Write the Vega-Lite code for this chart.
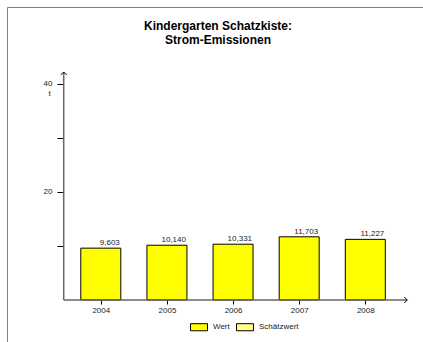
{
  "$schema": "https://vega.github.io/schema/vega-lite/v6.json",
  "width": 416,
  "height": 335,
  "autosize": {"type": "none"},
  "padding": {"left": 7, "top": 7, "right": 0, "bottom": 0},
  "background": "white",
  "config": {
    "font": "Liberation Sans",
    "locale": {"number": {"decimal": ",", "thousands": ".", "grouping": [3], "currency": ["", " €"]}},
    "view": {"stroke": "#808080", "strokeWidth": 1, "strokeDash": [416, 751, 335]}
  },
  "title": {
    "text": ["Kindergarten Schatzkiste:", "Strom-Emissionen"],
    "fontSize": 12,
    "fontWeight": "bold",
    "font": "Liberation Sans",
    "anchor": "middle",
    "frame": "group",
    "baseline": "top",
    "offset": -40,
    "lineHeight": 14,
    "dx": 3,
    "color": "black"
  },
  "data": {
    "values": [
      {"Jahr": 2004, "Wert": 9.603, "Art": "Wert"},
      {"Jahr": 2005, "Wert": 10.140, "Art": "Wert"},
      {"Jahr": 2006, "Wert": 10.331, "Art": "Wert"},
      {"Jahr": 2007, "Wert": 11.703, "Art": "Wert"},
      {"Jahr": 2008, "Wert": 11.227, "Art": "Wert"}
    ]
  },
  "layer": [
    {
      "mark": {"type": "bar", "width": 40, "stroke": "black", "strokeWidth": 1},
      "encoding": {
        "x": {
          "field": "Jahr", "type": "quantitative",
          "scale": {"domain": [2002.657, 2008.797], "nice": false, "zero": false},
          "axis": {
            "orient": "bottom", "offset": -42, "values": [2004, 2005, 2006, 2007, 2008],
            "format": "d", "domain": false, "grid": false, "tickSize": 4, "tickColor": "black",
            "labelFontSize": 8, "labelPadding": 2, "labelColor": "#222", "title": null
          }
        },
        "y": {
          "field": "Wert", "type": "quantitative",
          "scale": {"domain": [-7.778, 54.259], "nice": false, "zero": false},
          "axis": {
            "orient": "left", "offset": -56, "values": [10, 20, 30, 40],
            "labelExpr": "datum.value == 20 || datum.value == 40 ? datum.label : ''",
            "domain": false, "grid": false, "tickSize": 6, "tickColor": "black",
            "labelFontSize": 8, "labelPadding": 5, "labelColor": "#222",
            "title": "t", "titleAngle": 0, "titleX": -14, "titleY": 86,
            "titleAlign": "center", "titleBaseline": "middle", "titleFontSize": 8,
            "titleFontWeight": "normal", "titleColor": "#222"
          }
        },
        "y2": {"datum": 0},
        "color": {
          "field": "Art", "type": "nominal",
          "scale": {"domain": ["Wert", "Schätzwert"], "range": ["#ffff00", "#ffff88"]},
          "legend": {
            "orient": "none", "legendX": 184, "legendY": 312, "direction": "horizontal",
            "title": null, "symbolType": "M-1.2,-0.5H1.2V0.5H-1.2Z", "symbolSize": 200,
            "symbolStrokeColor": "black", "symbolStrokeWidth": 1, "symbolOpacity": 1,
            "labelFontSize": 8, "labelOffset": 6, "labelColor": "#222", "columnPadding": 4, "padding": 0
          }
        }
      }
    },
    {
      "mark": {"type": "text", "align": "right", "baseline": "alphabetic", "dx": 19, "dy": -3, "fontSize": 8, "color": "#222"},
      "encoding": {
        "x": {"field": "Jahr", "type": "quantitative"},
        "y": {"field": "Wert", "type": "quantitative"},
        "text": {"field": "Wert", "type": "quantitative", "format": ".3f"}
      }
    },
    {
      "data": {"values": [{}]},
      "mark": {"type": "rule", "stroke": "#666666", "strokeWidth": 1.5},
      "encoding": {
        "x": {"datum": 2003.439, "type": "quantitative"},
        "y": {"datum": 0, "type": "quantitative"},
        "y2": {"datum": 42.22}
      }
    },
    {
      "data": {"values": [{}]},
      "mark": {"type": "rule", "stroke": "#666666", "strokeWidth": 1.5},
      "encoding": {
        "x": {"datum": 2003.439, "type": "quantitative"},
        "x2": {"datum": 2008.635},
        "y": {"datum": 0, "type": "quantitative"}
      }
    },
    {
      "data": {"values": [{}]},
      "mark": {"type": "point", "shape": "M-1,1L0,0L1,1", "filled": false, "stroke": "black", "strokeWidth": 1, "size": 36, "opacity": 1},
      "encoding": {
        "x": {"datum": 2003.439, "type": "quantitative"},
        "y": {"datum": 42.22, "type": "quantitative"}
      }
    },
    {
      "data": {"values": [{}]},
      "mark": {"type": "point", "shape": "M-1,-1L0,0L-1,1", "filled": false, "stroke": "black", "strokeWidth": 1, "size": 36, "opacity": 1},
      "encoding": {
        "x": {"datum": 2008.635, "type": "quantitative"},
        "y": {"datum": 0, "type": "quantitative"}
      }
    }
  ]
}
